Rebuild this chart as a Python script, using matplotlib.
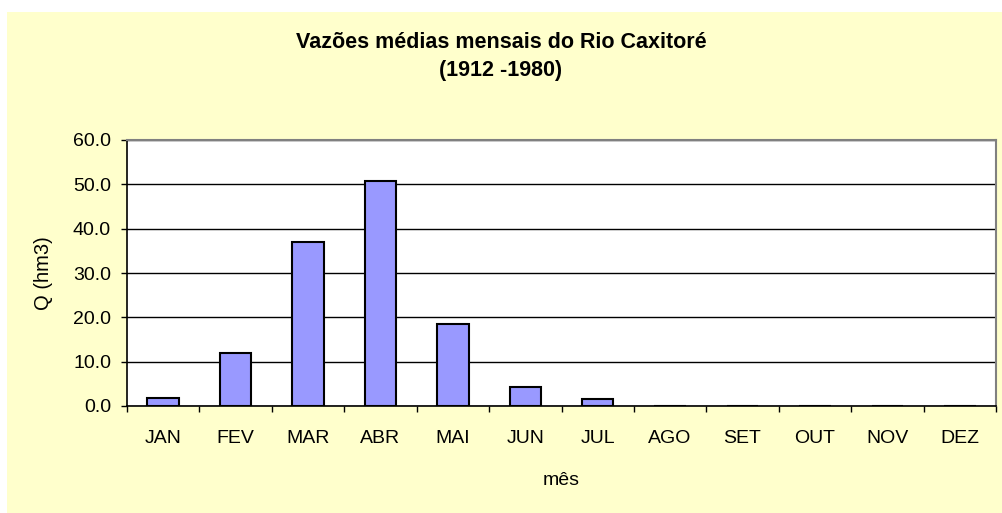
import matplotlib
matplotlib.use("Agg")
import matplotlib.pyplot as plt
from matplotlib.patches import Rectangle

months = ["JAN", "FEV", "MAR", "ABR", "MAI", "JUN", "JUL", "AGO", "SET", "OUT", "NOV", "DEZ"]
flows = [1.7, 12.0, 36.9, 50.8, 18.4, 4.2, 1.6, 0.0, 0.0, 0.0, 0.0, 0.0]
yticks = [0, 10, 20, 30, 40, 50, 60]

plt.rcParams['font.family'] = ['Liberation Sans', 'DejaVu Sans']

W, H = 1002, 513
fig = plt.figure(figsize=(W / 100, H / 100), dpi=100)
fig.patch.set_facecolor("white")
fig.patches.append(Rectangle((7 / W, 0), 1 - 7 / W, 1 - 12 / H, transform=fig.transFigure,
                             facecolor="#FFFFCC", edgecolor="none", zorder=-10))

left, right, top, bottom = 127, 996, 140, 406
ax = fig.add_axes([left / W, 1 - bottom / H, (right - left) / W, (bottom - top) / H])
ax.set_facecolor("white")

x = list(range(len(months)))
ax.bar(x, flows, width=0.435, color="#9999FF", edgecolor="black", linewidth=1.5, zorder=3)

ax.set_xlim(-0.5, len(months) - 0.5)
ax.set_ylim(0, 60)
ax.set_yticks(yticks)
ax.set_yticklabels([f"{v:.1f}" for v in yticks], fontsize=14)
ax.yaxis.grid(True, color="black", linewidth=1.0, zorder=0)
ax.set_axisbelow(True)

ax.set_xticks(x)
ax.set_xticklabels(months, fontsize=14)
ax.set_xticks([i - 0.5 for i in range(len(months) + 1)], minor=True)
ax.tick_params(axis="x", which="major", length=0, pad=17)
ax.tick_params(axis="x", which="minor", length=4.5, width=1, color="black", direction="out")
ax.tick_params(axis="y", length=4.5, width=1, color="black", direction="out", pad=7)

for s in ["top", "right"]:
    ax.spines[s].set_color("#808080")
    ax.spines[s].set_linewidth(1.5)
for s in ["left", "bottom"]:
    ax.spines[s].set_color("black")
    ax.spines[s].set_linewidth(1.2)

ax.set_xlabel("mês", fontsize=14, labelpad=18)
ax.set_ylabel("Q (hm3)", fontsize=14.5, labelpad=14)

fig.text(501 / W, 1 - 42 / H, "Vazões médias mensais do Rio Caxitoré", ha="center", va="center",
         fontsize=15.5, fontweight="bold")
fig.text(501 / W, 1 - 71 / H, "(1912 -1980)", ha="center", va="center",
         fontsize=15.5, fontweight="bold")

fig.savefig("out.png", dpi=100, facecolor=fig.get_facecolor())
